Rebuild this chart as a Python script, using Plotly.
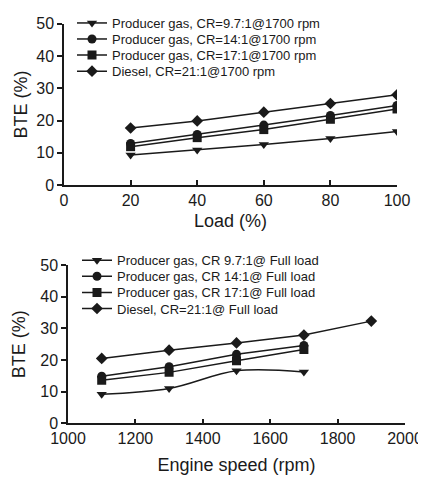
import plotly.graph_objects as go

# Top chart: BTE vs load @1700 rpm
load = [20, 40, 60, 80, 100]
top_names = ["Producer gas, CR=9.7:1@1700 rpm", "Producer gas, CR=14:1@1700 rpm",
             "Producer gas, CR=17:1@1700 rpm", "Diesel, CR=21:1@1700 rpm"]
top_pg97 = [9.3, 10.9, 12.6, 14.4, 16.6]
top_pg14 = [12.9, 15.7, 18.6, 21.6, 24.7]
top_pg17 = [11.9, 14.7, 17.2, 20.4, 23.6]
top_dsl = [17.7, 19.9, 22.6, 25.3, 28.0]

# Bottom chart: BTE vs engine speed @ full load
speed_pg = [1100, 1300, 1500, 1700]
speed_dsl = [1100, 1300, 1500, 1700, 1900]
bot_names = ["Producer gas, CR 9.7:1@ Full load", "Producer gas, CR 14:1@ Full load",
             "Producer gas, CR 17:1@ Full load", "Diesel, CR=21:1@ Full load"]
bot_pg97 = [9.2, 11.0, 16.6, 16.2]
bot_pg14 = [14.9, 17.9, 21.8, 24.6]
bot_pg17 = [13.6, 16.1, 19.8, 23.3]
bot_dsl = [20.5, 23.1, 25.4, 27.9, 32.3]

symbols = ["triangle-down", "circle", "square", "diamond"]
ink = "#1a1a1a"

# page body has an 8px margin: size the figure to fit, and map window pixels to paper fractions
OFF = 8
W, H = 426 - OFF, 478 - OFF


def px(x):
    return (x - OFF) / W


def py(y):
    return 1 - (y - OFF) / H


fig = go.Figure()
k = 0
for name, ys, sym in zip(top_names, [top_pg97, top_pg14, top_pg17, top_dsl], symbols):
    k += 1
    fig.add_trace(go.Scatter(x=load, y=ys, name=name, mode="lines+markers",
                             line=dict(color=ink, width=1.5),
                             marker=dict(symbol=sym, size=9, color=ink),
                             xaxis="x", yaxis="y", legend="legend" if k == 1 else f"legend{k}"))

bot_x = [speed_pg, speed_pg, speed_pg, speed_dsl]
bot_shapes = ["spline", "linear", "linear", "linear"]
for name, xs, ys, sym, shp in zip(bot_names, bot_x, [bot_pg97, bot_pg14, bot_pg17, bot_dsl], symbols, bot_shapes):
    k += 1
    fig.add_trace(go.Scatter(x=xs, y=ys, name=name, mode="lines+markers",
                             line=dict(color=ink, width=1.5, shape=shp),
                             marker=dict(symbol=sym, size=9, color=ink),
                             xaxis="x2", yaxis="y2", legend=f"legend{k}"))

font_family = "Liberation Sans, Arial, sans-serif"
axis_common = dict(showline=True, linecolor=ink, linewidth=1.5, showgrid=False, zeroline=False,
                   tickfont=dict(size=16, color=ink, family=font_family), ticklen=5, tickwidth=1.5,
                   tickcolor=ink, automargin=False)

layout = dict(
    width=W, height=H,
    margin=dict(l=0, r=0, t=0, b=0),
    paper_bgcolor="white", plot_bgcolor="white",
    font=dict(family=font_family, color=ink),
    showlegend=True,
    xaxis=dict(domain=[px(64), px(397)], range=[0, 100], tickvals=[0, 20, 40, 60, 80, 100],
               ticks="inside", anchor="y",
               title=dict(text="Load (%)", font=dict(size=18), standoff=6), **axis_common),
    yaxis=dict(domain=[py(178), py(13)], range=[0, 50], tickvals=[0, 10, 20, 30, 40, 50],
               ticks="outside", anchor="x",
               title=dict(text="BTE (%)", font=dict(size=18), standoff=4), **axis_common),
    xaxis2=dict(domain=[px(68), px(405)], range=[1000, 2000],
                tickvals=[1000, 1200, 1400, 1600, 1800, 2000],
                ticks="inside", anchor="y2",
                title=dict(text="Engine speed (rpm)", font=dict(size=18), standoff=12), **axis_common),
    yaxis2=dict(domain=[py(422), py(260)], range=[0, 50], tickvals=[0, 10, 20, 30, 40, 50],
                ticks="outside", anchor="x2",
                title=dict(text="BTE (%)", font=dict(size=18), standoff=10), **axis_common),
)

# one legend per entry so the rows can sit at the reference spacing
top_rows = [12, 28.5, 45, 61.5]
bot_rows = [255, 271.5, 288, 304.5]
rows = [(72, r) for r in top_rows] + [(77, r) for r in bot_rows]
for i, (lx, ly) in enumerate(rows, start=1):
    key = "legend" if i == 1 else f"legend{i}"
    layout[key] = dict(x=px(lx), y=py(ly), xanchor="left", yanchor="middle",
                       font=dict(size=13, color=ink), bgcolor="rgba(0,0,0,0)",
                       borderwidth=0, itemwidth=30)

fig.update_layout(**layout)
fig.write_html("out.html")
